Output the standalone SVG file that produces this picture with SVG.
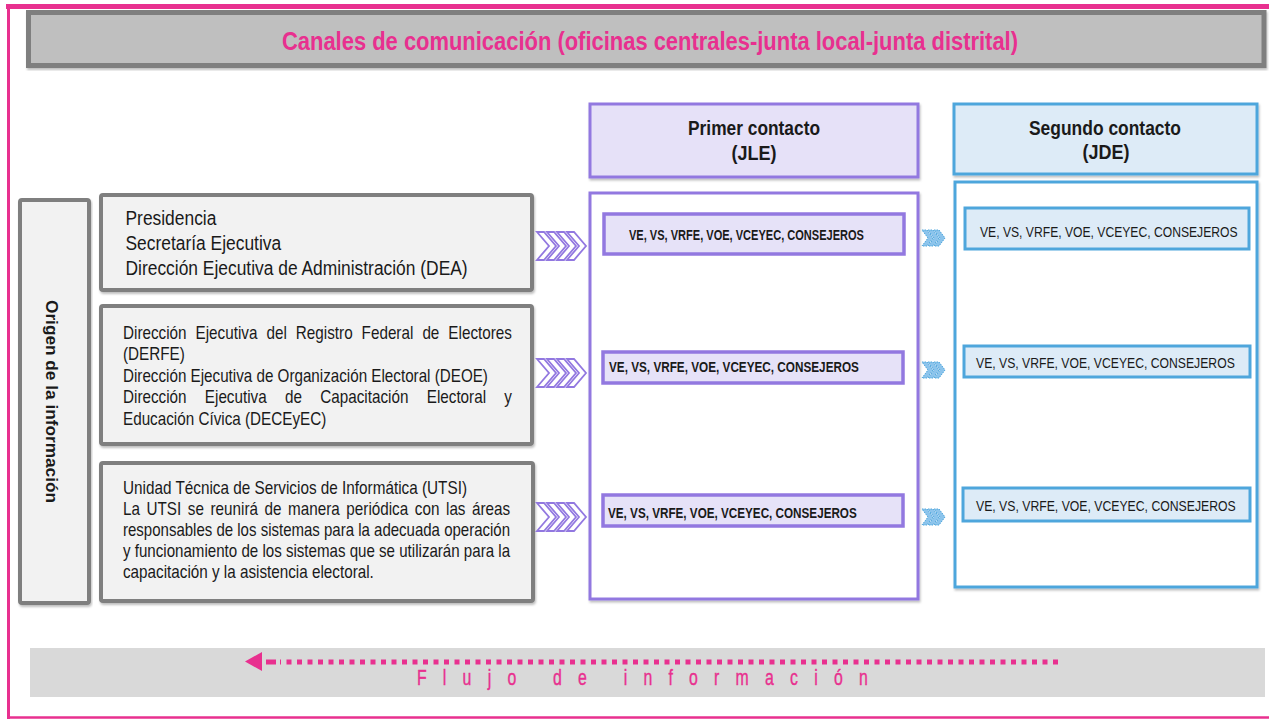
<svg xmlns="http://www.w3.org/2000/svg" width="1269" height="719" viewBox="0 0 1269 719">
<style>
.gbox{fill:#f2f2f2;stroke:#7f7f7f;stroke-width:4}
.phead{fill:#e6e1f8;stroke:#9278e0;stroke-width:3}
.pcont{fill:#ffffff;stroke:#9278e0;stroke-width:3}
.pin{fill:#e6e2f8;stroke:#9278e0;stroke-width:3.5}
.bhead{fill:#ddebf7;stroke:#4ea6dc;stroke-width:3}
.bcont{fill:#ffffff;stroke:#4ea6dc;stroke-width:3}
.bin{fill:#ddebf7;stroke:#4ea6dc;stroke-width:3}
.t{font-family:"Liberation Sans",Arial,sans-serif;fill:#1a1a1a}
.b{font-weight:bold}
.pchev{fill:#ffffff;stroke:#9278e0;stroke-width:1.8;stroke-linejoin:miter}
.bchev{fill:#8cc4ec;stroke:#4ea6dc;stroke-width:1;stroke-dasharray:1.5 1}
</style>
<defs>
<filter id="sh" x="-5%" y="-5%" width="110%" height="115%">
<feDropShadow dx="1" dy="2" stdDeviation="1" flood-color="#000" flood-opacity="0.25"/>
</filter>
<path id="pc" d="M0,-14 L7,-14 L19,0 L7,14 L0,14 L12,0 Z"/>
<path id="bc" d="M0,-8 L5,-8 L11,0 L5,8 L0,8 L6,0 Z"/>
</defs>

<!-- outer frame -->
<g id="frame">
<line x1="6" y1="6.5" x2="1269" y2="6.5" stroke="#e8308f" stroke-width="5"/>
<line x1="8.5" y1="4" x2="8.5" y2="719" stroke="#e8308f" stroke-width="3"/>
<line x1="7" y1="717.5" x2="1269" y2="717.5" stroke="#e8308f" stroke-width="2.5"/>
</g>

<!-- title -->
<g id="title">
<rect x="28.5" y="12.5" width="1235.5" height="53" fill="#bfbfbf" stroke="#7f7f7f" stroke-width="5" filter="url(#sh)"/>
<text x="282" y="50" class="t b" font-size="26" style="fill:#e8308f" textLength="736" lengthAdjust="spacingAndGlyphs">Canales de comunicación (oficinas centrales-junta local-junta distrital)</text>
</g>

<!-- origen -->
<g id="origen">
<rect x="20" y="200" width="69" height="403" rx="2" class="gbox" filter="url(#sh)"/>
<text transform="translate(46,401.5) rotate(90)" x="0" y="0" text-anchor="middle" class="t b" font-size="17" textLength="203" lengthAdjust="spacingAndGlyphs">Origen de la información</text>
</g>

<!-- source boxes -->
<g id="src1">
<rect x="101" y="195" width="431" height="95" rx="2" class="gbox" filter="url(#sh)"/>
<g transform="translate(125.5,0) scale(0.87,1)" font-size="20">
<text x="0" y="225" class="t">Presidencia</text>
<text x="0" y="250" class="t">Secretaría Ejecutiva</text>
<text x="0" y="275" class="t">Dirección Ejecutiva de Administración (DEA)</text>
</g>
</g>

<g id="src2">
<rect x="101" y="306" width="431" height="138" rx="2" class="gbox" filter="url(#sh)"/>
<g transform="translate(123,0) scale(0.82,1)" font-size="18.6">
<text y="339" class="t"><tspan x="0">Dirección</tspan><tspan x="88.5">Ejecutiva</tspan><tspan x="175">del</tspan><tspan x="210.8">Registro</tspan><tspan x="291">Federal</tspan><tspan x="365.1">de</tspan><tspan x="396.8">Electores</tspan></text>
<text x="0" y="360.5" class="t">(DERFE)</text>
<text x="0" y="382" class="t" textLength="445" lengthAdjust="spacingAndGlyphs">Dirección Ejecutiva de Organización Electoral (DEOE)</text>
<text y="403.5" class="t"><tspan x="0">Dirección</tspan><tspan x="99.8">Ejecutiva</tspan><tspan x="197.6">de</tspan><tspan x="240.6">Capacitación</tspan><tspan x="370.4">Electoral</tspan><tspan x="465.1">y</tspan></text>
<text x="0" y="425" class="t">Educación Cívica (DECEyEC)</text>
</g>
</g>

<g id="src3">
<rect x="101" y="463" width="432" height="138" rx="2" class="gbox" filter="url(#sh)"/>
<g transform="translate(123,0) scale(0.82,1)" font-size="18.6">
<text x="0" y="494" class="t" textLength="419.5" lengthAdjust="spacingAndGlyphs">Unidad Técnica de Servicios de Informática (UTSI)</text>
<text y="515" class="t"><tspan x="0">La</tspan><tspan x="28.7">UTSI</tspan><tspan x="79.1">se</tspan><tspan x="106.7">reunirá</tspan><tspan x="172.6">de</tspan><tspan x="201.3">manera</tspan><tspan x="272.4">periódica</tspan><tspan x="355.9">con</tspan><tspan x="393.9">las</tspan><tspan x="425.7">áreas</tspan></text>
<text x="0" y="536" class="t" textLength="472" lengthAdjust="spacingAndGlyphs">responsables de los sistemas para la adecuada operación</text>
<text x="0" y="557" class="t" textLength="472" lengthAdjust="spacingAndGlyphs">y funcionamiento de los sistemas que se utilizarán para la</text>
<text x="0" y="578" class="t">capacitación y la asistencia electoral.</text>
</g>
</g>

<!-- primer contacto -->
<g id="jle-head">
<rect x="590" y="104" width="328" height="73" class="phead" filter="url(#sh)"/>
<text x="754" y="135" text-anchor="middle" class="t b" font-size="20" textLength="132" lengthAdjust="spacingAndGlyphs">Primer contacto</text>
<text x="754" y="160" text-anchor="middle" class="t b" font-size="20" textLength="45" lengthAdjust="spacingAndGlyphs">(JLE)</text>
</g>
<g id="jle">
<rect x="590" y="193" width="328" height="406" class="pcont" filter="url(#sh)"/>
</g>
<g id="jle1">
<rect x="604" y="214" width="300" height="40" class="pin"/>
<text transform="translate(629,0) scale(0.737,1)" x="0" y="240" class="t b" font-size="15">VE, VS, VRFE, VOE, VCEYEC, CONSEJEROS</text>
</g>
<g id="jle2">
<rect x="603" y="352" width="300" height="31" class="pin"/>
<text transform="translate(609,0) scale(0.783,1)" x="0" y="372" class="t b" font-size="15">VE, VS, VRFE, VOE, VCEYEC, CONSEJEROS</text>
</g>
<g id="jle3">
<rect x="603" y="495" width="300" height="31" class="pin"/>
<text transform="translate(608,0) scale(0.78,1)" x="0" y="518" class="t b" font-size="15">VE, VS, VRFE, VOE, VCEYEC, CONSEJEROS</text>
</g>

<!-- segundo contacto -->
<g id="jde-head">
<rect x="954" y="104" width="303" height="70" class="bhead" filter="url(#sh)"/>
<text x="1105" y="135" text-anchor="middle" class="t b" font-size="20.5" textLength="152" lengthAdjust="spacingAndGlyphs">Segundo contacto</text>
<text x="1106" y="159" text-anchor="middle" class="t b" font-size="20.5" textLength="47" lengthAdjust="spacingAndGlyphs">(JDE)</text>
</g>
<g id="jde">
<rect x="955" y="182" width="302" height="405" class="bcont" filter="url(#sh)"/>
</g>
<g id="jde1">
<rect x="965" y="208" width="284" height="41" class="bin"/>
<text transform="translate(980,0) scale(0.784,1)" x="0" y="237" class="t" font-size="15.5">VE, VS, VRFE, VOE, VCEYEC, CONSEJEROS</text>
</g>
<g id="jde2">
<rect x="964" y="346" width="286" height="31" class="bin"/>
<text transform="translate(976,0) scale(0.787,1)" x="0" y="368" class="t" font-size="15.5">VE, VS, VRFE, VOE, VCEYEC, CONSEJEROS</text>
</g>
<g id="jde3">
<rect x="963" y="488" width="287" height="33" class="bin"/>
<text transform="translate(976,0) scale(0.79,1)" x="0" y="511" class="t" font-size="15.5">VE, VS, VRFE, VOE, VCEYEC, CONSEJEROS</text>
</g>

<!-- flow band -->
<g id="flujo">
<rect x="30" y="648" width="1235" height="49" fill="#d9d9d9"/>
<g transform="translate(417,0) scale(0.72,1)">
<text x="0" y="685" class="t" font-size="22" style="fill:#e8308f" stroke="#e8308f" stroke-width="0.4" textLength="626" lengthAdjust="spacing">Flujo de información</text>
</g>
</g>

<!-- connectors -->
<g id="connectors">
<g class="pchev">
<use href="#pc" x="537" y="246"/><use href="#pc" x="547" y="246"/><use href="#pc" x="557" y="246"/><use href="#pc" x="567" y="246"/>
<use href="#pc" x="537" y="373"/><use href="#pc" x="547" y="373"/><use href="#pc" x="557" y="373"/><use href="#pc" x="567" y="373"/>
<use href="#pc" x="537" y="517"/><use href="#pc" x="547" y="517"/><use href="#pc" x="557" y="517"/><use href="#pc" x="567" y="517"/>
</g>
<g class="bchev">
<use href="#bc" x="922" y="238"/><use href="#bc" x="928" y="238"/><use href="#bc" x="934" y="238"/>
<use href="#bc" x="922" y="370"/><use href="#bc" x="928" y="370"/><use href="#bc" x="934" y="370"/>
<use href="#bc" x="922" y="517"/><use href="#bc" x="928" y="517"/><use href="#bc" x="934" y="517"/>
</g>
<line x1="1058" y1="662" x2="280" y2="662" stroke="#e8308f" stroke-width="5" stroke-dasharray="5 5.5"/>
<rect x="266" y="659.5" width="10" height="5" fill="#e8308f"/>
<polygon points="245,661.5 262,652 262,671" fill="#e8308f"/>
</g>
</svg>
